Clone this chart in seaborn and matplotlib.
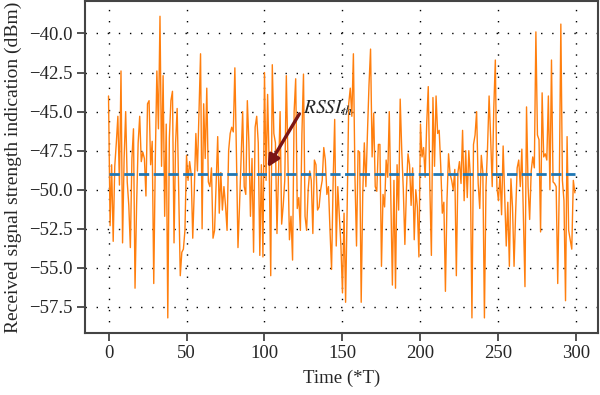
import numpy as np
import pandas as pd
import matplotlib
matplotlib.use("Agg")
import matplotlib.pyplot as plt
import seaborn as sns

# ---- data ----
time = list(range(300))
rssi = [
    -44.0, -52.3, -48.4, -53.3, -48.5, -47.0, -45.3, -49.7, -42.4, -53.4,
    -48.0, -45.0, -49.5, -51.0, -53.7, -48.0, -46.1, -56.3, -51.0, -47.0,
    -45.3, -48.2, -47.6, -48.0, -50.4, -44.5, -44.3, -48.4, -46.9, -56.0,
    -48.0, -42.4, -46.1, -38.9, -48.5, -42.7, -51.7, -45.8, -58.2, -46.7,
    -44.3, -43.7, -53.4, -47.0, -44.8, -50.0, -55.5, -54.0, -53.8, -52.6,
    -47.8, -49.4, -48.2, -49.0, -53.1, -50.0, -46.4, -48.8, -45.0, -41.3,
    -52.5, -44.5, -48.0, -43.5, -49.5, -49.8, -48.6, -53.1, -52.6, -49.5,
    -46.6, -51.5, -48.9, -51.3, -49.8, -51.0, -52.6, -47.5, -46.4, -46.0,
    -46.3, -42.2, -47.7, -53.7, -51.0, -48.0, -45.0, -49.8, -50.3, -44.3,
    -47.0, -51.7, -48.0, -54.0, -46.0, -45.3, -47.0, -54.2, -48.4, -54.3,
    -42.5, -49.4, -43.9, -48.4, -55.5, -42.0, -46.4, -47.0, -52.8, -49.0,
    -45.0, -52.2, -51.0, -49.4, -42.7, -48.0, -53.2, -51.7, -54.5, -45.0,
    -42.9, -51.2, -50.5, -52.6, -46.4, -42.6, -51.7, -52.6, -50.0, -48.8,
    -49.4, -52.8, -48.1, -48.4, -51.3, -51.1, -50.0, -49.4, -47.3, -48.1,
    -50.3, -49.8, -52.6, -55.1, -49.5, -45.5, -53.6, -49.8, -51.7, -53.6,
    -56.6, -51.5, -57.2, -51.2, -44.5, -43.5, -45.3, -41.3, -49.2, -53.6,
    -47.5, -47.6, -57.2, -50.2, -47.0, -49.8, -46.4, -43.3, -41.0, -47.9,
    -45.1, -49.8, -50.1, -47.1, -47.1, -54.9, -50.3, -51.1, -48.1, -49.2,
    -45.0, -50.7, -56.1, -49.4, -56.3, -48.4, -51.3, -44.2, -47.5, -50.0,
    -53.5, -50.0, -47.7, -48.4, -51.0, -48.6, -53.2, -50.0, -51.1, -54.3,
    -45.8, -47.9, -47.3, -49.2, -45.8, -43.4, -49.8, -54.2, -44.1, -48.5,
    -44.0, -46.4, -46.2, -48.5, -51.5, -50.8, -56.5, -50.7, -47.7, -49.0,
    -49.4, -50.0, -48.7, -55.5, -48.9, -48.2, -49.6, -46.2, -50.7, -47.5,
    -50.5, -47.5, -49.2, -58.2, -47.1, -46.5, -45.0, -49.6, -51.2, -47.8,
    -48.9, -58.2, -49.8, -47.3, -44.0, -46.7, -49.8, -44.8, -41.7, -49.8,
    -50.7, -49.0, -51.6, -47.2, -50.5, -53.6, -50.8, -54.9, -49.3, -51.1,
    -54.9, -51.5, -48.6, -48.1, -49.8, -47.4, -51.7, -56.2, -44.7, -49.8,
    -51.9, -48.8, -47.9, -48.6, -39.9, -46.5, -46.8, -52.7, -43.8, -47.9,
    -47.7, -48.1, -44.0, -50.0, -41.7, -49.5, -49.6, -49.8, -56.0, -49.8,
    -39.4, -49.4, -50.7, -57.1, -46.6, -52.6, -53.2, -53.8, -49.4, -50.2,
]
threshold = -49.0
xticks = [0, 50, 100, 150, 200, 250, 300]
yticks = [-40.0, -42.5, -45.0, -47.5, -50.0, -52.5, -55.0, -57.5]
xlabel = "Time (*T)"
ylabel = "Received signal strength indication (dBm)"
annot_text = r"$RSSI_{th}$"

# ---- style ----
sns.set_style("ticks")
plt.rcParams["font.family"] = ["Liberation Serif", "DejaVu Serif"]
plt.rcParams["mathtext.fontset"] = "stix"

df = pd.DataFrame({"time": time, "rssi": rssi,
                   "th": [threshold] * len(time)})

fig = plt.figure(figsize=(6.0, 3.95), dpi=100)
ax = fig.add_axes([0.142, 0.157, 0.855, 0.840])

sns.lineplot(data=df, x="time", y="rssi", color="#ff7f0e", lw=1.0,
             estimator=None, ax=ax, zorder=3)
sns.lineplot(data=df, x="time", y="th", color="#1f77b4", lw=2.0,
             linestyle="--", estimator=None, ax=ax, zorder=4)

ax.set_xticks(xticks)
ax.set_yticks(yticks)
ax.grid(True, color="black", linestyle=(0, (1, 7)), lw=1.0)

ax.set_xlabel(xlabel, fontsize=13.5, labelpad=5)
ax.set_ylabel(ylabel, fontsize=14, labelpad=5)

for sp in ax.spines.values():
    sp.set_color("#444444")
    sp.set_linewidth(1.5)
ax.tick_params(direction="out", length=6, width=1.3, color="#444444",
               labelsize=13.5, pad=3)

ax.text(125, -45.1, annot_text, fontsize=14, va="baseline", ha="left",
        zorder=6)
ax.annotate("", xy=(102, -48.56), xytext=(122.4, -45.14),
            arrowprops=dict(arrowstyle="-|>,head_length=0.7,head_width=0.35",
                            color="#7b1515", lw=2.4, shrinkA=0, shrinkB=0),
            zorder=6)

fig.savefig("out.png", dpi=100)
